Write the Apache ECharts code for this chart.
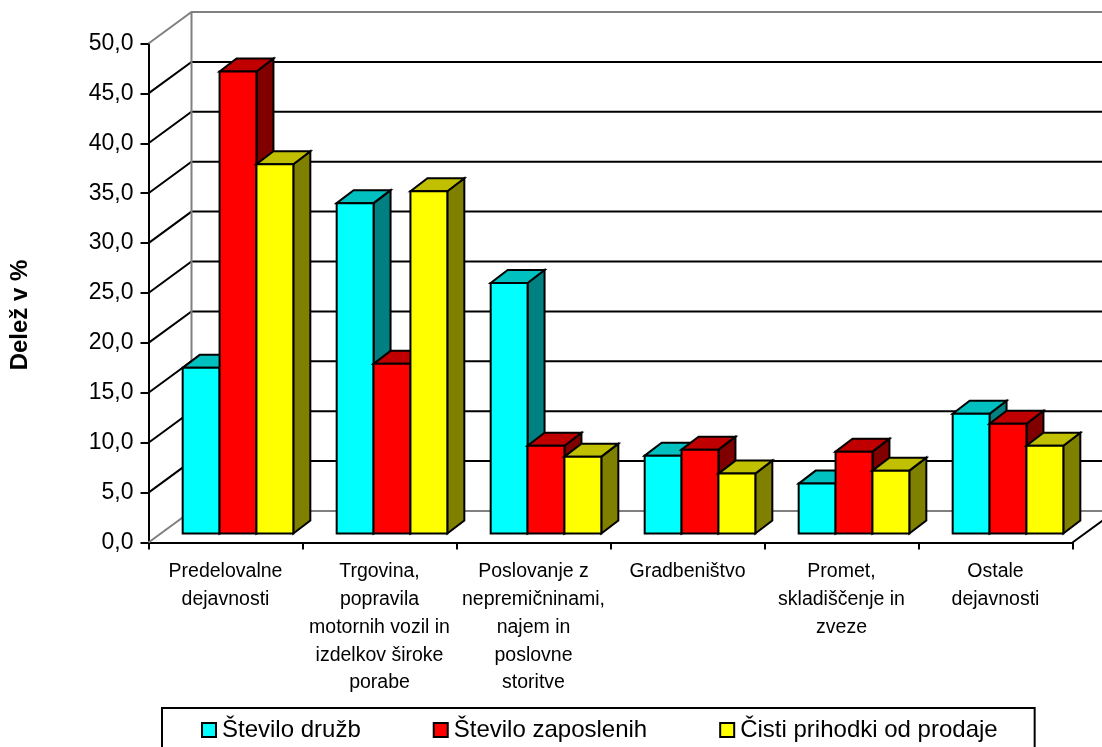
<!DOCTYPE html>
<html>
<head>
<meta charset="utf-8">
<style>html,body{margin:0;padding:0;background:#fff}#c{width:1102px;height:747px}</style>
<script src="https://cdn.jsdelivr.net/npm/echarts@6/dist/echarts.min.js"></script>
</head>
<body>
<div id="c"></div>
<script>
var categories = [
  'Predelovalne\ndejavnosti',
  'Trgovina,\npopravila\nmotornih vozil in\nizdelkov široke\nporabe',
  'Poslovanje z\nnepremičninami,\nnajem in\nposlovne\nstoritve',
  'Gradbeništvo',
  'Promet,\nskladiščenje in\nzveze',
  'Ostale\ndejavnosti'
];
var yTicks = [0, 5, 10, 15, 20, 25, 30, 35, 40, 45, 50];
var steviloDruzb = [16.6, 33.1, 25.1, 7.8, 5.0, 12.0];
var steviloZaposlenih = [46.3, 17.0, 8.8, 8.4, 8.2, 11.0];
var cistiPrihodki = [37.0, 34.3, 7.7, 6.0, 6.3, 8.8];

var WALL_DX = 43, WALL_DY = 31.5;
var BAR_OX = 12.5, BAR_OY = 9;
var BAR_DX = 17, BAR_DY = 13;
var FONT = '"Liberation Sans", Arial, sans-serif';

function wallItem(params, api) {
  var v = api.value(1);
  var cs = params.coordSys;
  var y = api.coord([0, v])[1];
  var x0 = cs.x, x1 = cs.x + cs.width;
  var edge = v === 0 || v === 50;
  var col = edge ? '#808080' : '#000000';
  var ls = {stroke: col, lineWidth: 2, fill: null};
  var kids = [
    {type: 'polyline', shape: {points: [[x0, y], [x0 + WALL_DX, y - WALL_DY], [x1 + WALL_DX, y - WALL_DY]]}, style: ls}
  ];
  if (v === 50) {
    var yb = api.coord([0, 0])[1];
    kids.push({type: 'line', shape: {x1: x0 + WALL_DX, y1: y - WALL_DY, x2: x0 + WALL_DX, y2: yb - WALL_DY},
      style: {stroke: '#808080', lineWidth: 2}});
  }
  if (v === 0) {
    kids.push({type: 'line', shape: {x1: x1, y1: y, x2: x1 + WALL_DX, y2: y - WALL_DY},
      style: {stroke: '#000000', lineWidth: 2}});
  }
  return {type: 'group', children: kids};
}

function barSeries(name, values, index, front, top, side) {
  return {
    name: name,
    type: 'custom',
    z: 3 + index,
    itemStyle: {color: front, borderColor: '#000', borderWidth: 2},
    data: values.map(function (v, i) { return [i, v]; }),
    encode: {x: 0, y: 1},
    renderItem: function (params, api) {
      var w = api.size([1, 0])[0] * 0.2395;
      var base = api.coord([api.value(0), 0]);
      var tp = api.coord([api.value(0), api.value(1)]);
      var l = base[0] + BAR_OX + (index - 1.5) * w;
      var r = l + w;
      var b = base[1] - BAR_OY;
      var t = tp[1] - BAR_OY;
      var st = function (f) { return {fill: f, stroke: '#000', lineWidth: 2, lineJoin: 'miter'}; };
      return {
        type: 'group',
        children: [
          {type: 'polygon', shape: {points: [[r, b], [r + BAR_DX, b - BAR_DY], [r + BAR_DX, t - BAR_DY], [r, t]]}, style: st(side)},
          {type: 'polygon', shape: {points: [[l, t], [l + BAR_DX, t - BAR_DY], [r + BAR_DX, t - BAR_DY], [r, t]]}, style: st(top)},
          {type: 'rect', shape: {x: l, y: t, width: w, height: b - t}, style: st(front)}
        ]
      };
    }
  };
}

var chart = echarts.init(document.getElementById('c'), null, {renderer: 'canvas'});
chart.setOption({
  animation: false,
  backgroundColor: '#fff',
  textStyle: {fontFamily: FONT},
  grid: {left: 148.5, top: 43.5, width: 924, height: 499, containLabel: false},
  legend: {
    left: 162, top: 708,
    orient: 'horizontal',
    padding: [10, 37, 24, 39],
    borderColor: '#000', borderWidth: 2,
    itemWidth: 14, itemHeight: 14, itemGap: 72,
    selectedMode: false,
    textStyle: {fontFamily: FONT, fontSize: 24, color: '#000', padding: [0, 0, 0, 1]},
    data: [
      {name: 'Število družb', icon: 'rect', itemStyle: {color: '#00FFFF', borderColor: '#000', borderWidth: 2}},
      {name: 'Število zaposlenih', icon: 'rect', itemStyle: {color: '#FF0000', borderColor: '#000', borderWidth: 2}},
      {name: 'Čisti prihodki od prodaje', icon: 'rect', itemStyle: {color: '#FFFF00', borderColor: '#000', borderWidth: 2}}
    ]
  },
  xAxis: {
    type: 'category',
    data: categories,
    boundaryGap: true,
    axisLine: {lineStyle: {color: '#000', width: 2}},
    axisTick: {show: true, length: 7, alignWithLabel: false, lineStyle: {color: '#000', width: 2}},
    axisLabel: {interval: 0, margin: 15.5, fontFamily: FONT, fontSize: 19.5, lineHeight: 27.8, color: '#000'},
    splitLine: {show: false}
  },
  yAxis: {
    type: 'value',
    min: 0, max: 50, interval: 5,
    name: 'Delež v %',
    nameLocation: 'middle',
    nameRotate: 90,
    nameGap: 116,
    nameTextStyle: {fontFamily: FONT, fontSize: 24, fontWeight: 'bold', color: '#000', padding: [0, 44, 0, 0]},
    axisLine: {show: true, lineStyle: {color: '#000', width: 2}},
    axisTick: {show: true, length: 8, lineStyle: {color: '#000', width: 2}},
    axisLabel: {margin: 15, fontFamily: FONT, fontSize: 23, color: '#000',
      formatter: function (v) { return v.toFixed(1).replace('.', ','); }},
    splitLine: {show: false}
  },
  series: [
    {type: 'custom', z: 1, silent: true, data: yTicks.map(function (v) { return [0, v]; }),
     encode: {x: 0, y: 1}, renderItem: wallItem},
    barSeries('Število družb', steviloDruzb, 0, '#00FFFF', '#00C0C0', '#008080'),
    barSeries('Število zaposlenih', steviloZaposlenih, 1, '#FF0000', '#C00000', '#800000'),
    barSeries('Čisti prihodki od prodaje', cistiPrihodki, 2, '#FFFF00', '#C0C000', '#808000')
  ]
});
</script>
</body>
</html>
